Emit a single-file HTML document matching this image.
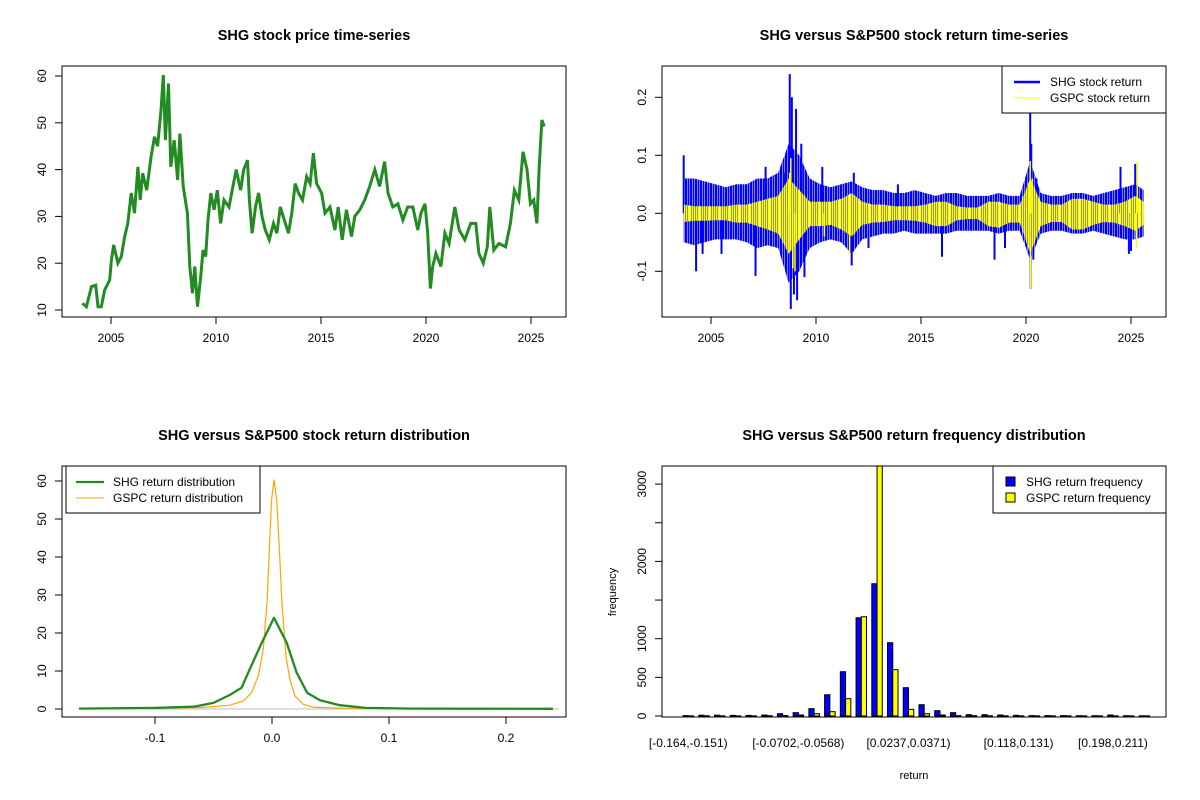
<!DOCTYPE html>
<html><head><meta charset="utf-8"><style>
body{margin:0;background:#fff;}
svg{display:block;font-family:"Liberation Sans",Arial,sans-serif;}
</style></head><body>
<svg id="c" width="1200" height="800" xmlns="http://www.w3.org/2000/svg">
<defs>
<pattern id="blueStripe" width="2.5" height="10" patternUnits="userSpaceOnUse"><rect x="0" y="0" width="2" height="10" fill="#0000FF"/></pattern>
<pattern id="yellowStripe" width="2" height="10" patternUnits="userSpaceOnUse"><rect x="0" y="0" width="1.6" height="10" fill="#FFFF00"/></pattern>
</defs>
</svg>
<script>
// ---------- data ----------
const priceYears=[2003.64,2003.83,2004.07,2004.27,2004.38,2004.54,2004.70,2004.94,2005.02,2005.13,2005.33,2005.49,2005.65,2005.80,2005.96,2006.12,2006.28,2006.39,2006.51,2006.70,2006.91,2007.07,2007.22,2007.38,2007.49,2007.59,2007.74,2007.85,2008.01,2008.17,2008.28,2008.44,2008.64,2008.75,2008.88,2008.99,2009.12,2009.27,2009.38,2009.51,2009.62,2009.75,2009.91,2010.06,2010.22,2010.38,2010.62,2010.77,2010.96,2011.17,2011.32,2011.50,2011.59,2011.72,2011.88,2012.03,2012.19,2012.35,2012.54,2012.74,2012.90,2013.06,2013.25,2013.45,2013.61,2013.77,2013.93,2014.12,2014.32,2014.48,2014.64,2014.79,2015.03,2015.19,2015.43,2015.66,2015.82,2016.01,2016.21,2016.45,2016.61,2016.85,2017.08,2017.32,2017.56,2017.79,2018.03,2018.19,2018.42,2018.66,2018.90,2019.13,2019.37,2019.61,2019.76,2019.95,2020.08,2020.21,2020.32,2020.47,2020.71,2020.90,2021.10,2021.37,2021.58,2021.85,2022.13,2022.37,2022.52,2022.73,2022.92,2023.04,2023.23,2023.47,2023.79,2024.02,2024.21,2024.42,2024.62,2024.81,2024.97,2025.13,2025.28,2025.39,2025.52,2025.63];
const priceValues=[11.4,10.7,15,15.3,10.7,10.7,14.3,16.4,20.7,23.9,20,21.4,25.7,28.5,35,30.7,40.6,33.5,39.2,35.6,42.8,47,45,52.7,60.2,46.3,58.4,40.6,46.3,37.8,47.7,36.4,30.7,19.3,13.6,19.3,10.7,17.1,22.8,21.4,29.2,35,31.4,35.6,28.5,33.5,32,35.6,40,35.6,40,42,33.5,26.4,32,35,30,27.1,25,28.5,26.4,32,29.2,26.4,30.7,37,35,33.5,38.5,37,43.5,37,35,30.7,32,27.1,32,25,31.4,25.7,30,31.4,33.5,36.4,40,36.4,41.7,35,32,32.7,29.2,32,32,27.1,30.7,32.7,26.4,14.6,19.3,22.1,19.3,26.4,24.2,32,27.1,25,28.5,28.5,22.1,20,23.5,32,22.8,24.2,23.5,28.5,35.6,33.5,43.8,40,32.7,33.5,28.5,40.6,50.6,49.2];

const retYears=[2003.7,2004.2,2004.7,2005.2,2005.7,2006.2,2006.7,2007.2,2007.7,2008.2,2008.7,2009.2,2009.7,2010.2,2010.7,2011.2,2011.7,2012.2,2012.7,2013.2,2013.7,2014.2,2014.7,2015.2,2015.7,2016.2,2016.7,2017.2,2017.7,2018.2,2018.7,2019.2,2019.7,2020.2,2020.7,2021.2,2021.7,2022.2,2022.7,2023.2,2023.7,2024.2,2024.7,2025.2,2025.6];
const shgHigh=[.06,.06,.055,.05,.045,.05,.05,.06,.06,.07,.12,.10,.06,.05,.045,.05,.055,.045,.04,.04,.035,.035,.04,.035,.03,.035,.035,.03,.03,.03,.035,.03,.03,.09,.035,.03,.03,.035,.035,.03,.035,.04,.045,.05,.04];
const shgLow=[-.05,-.055,-.05,-.045,-.045,-.045,-.05,-.06,-.055,-.06,-.12,-.10,-.06,-.05,-.045,-.05,-.07,-.045,-.04,-.035,-.035,-.03,-.035,-.035,-.035,-.035,-.03,-.03,-.03,-.03,-.035,-.03,-.03,-.08,-.035,-.03,-.03,-.035,-.035,-.03,-.035,-.04,-.045,-.045,-.04];
const gspcHigh=[.015,.012,.012,.012,.012,.015,.015,.02,.025,.03,.06,.04,.02,.02,.02,.025,.035,.02,.015,.015,.012,.012,.012,.015,.02,.02,.012,.01,.01,.02,.02,.015,.015,.06,.02,.015,.015,.025,.025,.02,.015,.015,.02,.03,.02];
const gspcLow=[-.015,-.013,-.013,-.012,-.012,-.016,-.016,-.022,-.028,-.035,-.07,-.045,-.022,-.022,-.02,-.028,-.04,-.02,-.016,-.015,-.012,-.012,-.013,-.016,-.022,-.022,-.012,-.01,-.01,-.022,-.025,-.016,-.016,-.07,-.022,-.015,-.015,-.028,-.028,-.02,-.015,-.016,-.022,-.03,-.02];
const shgSpikeYears=[2003.7,2004.29,2004.6,2005.5,2007.12,2007.6,2008.55,2008.75,2008.8,2008.85,2008.95,2009.05,2009.1,2009.3,2009.45,2010.3,2011.7,2011.8,2012.5,2013.9,2016.0,2018.5,2019.0,2020.2,2020.22,2020.25,2020.35,2020.5,2024.5,2024.9,2025.2,2025.0];
const shgSpikeValues=[0.10,-0.10,-0.07,-0.07,-0.108,0.08,0.07,0.24,-0.165,0.20,-0.14,0.18,-0.15,0.12,-0.11,0.08,-0.09,0.07,-0.06,0.05,-0.075,-0.08,-0.06,0.18,-0.13,0.12,-0.08,0.06,0.08,-0.07,0.085,-0.065];
const gspcSpikeYears=[2008.75,2008.8,2008.9,2009.0,2010.4,2011.6,2020.2,2020.22,2020.3,2025.25,2025.3];
const gspcSpikeValues=[0.07,0.095,-0.095,-0.1,-0.04,-0.07,0.09,-0.13,0.06,-0.06,0.09];

const densX=[-0.165,-0.1,-0.067,-0.05,-0.036,-0.026,-0.019,-0.010,0.0017,0.0125,0.021,0.030,0.041,0.058,0.08,0.12,0.24];
const shgDens=[0.1,0.3,0.6,1.6,3.7,5.6,10.5,16.6,24,17.5,9.6,4.3,2.3,1.0,0.3,0.1,0.05];
const gspcX=[-0.165,-0.06,-0.036,-0.0245,-0.0174,-0.0117,-0.0074,-0.004,-0.0023,-0.0003,0.0017,0.004,0.0063,0.0083,0.012,0.0154,0.0197,0.0268,0.035,0.06,0.24];
const gspcDens=[0.05,0.4,1.0,2.1,4.3,8.7,15.8,29,42,55,60.4,55,42,29,13.8,7.6,3.4,1.2,0.5,0.2,0.05];

const binLabels=["[-0.164,-0.151)","[-0.0702,-0.0568)","[0.0237,0.0371)","[0.118,0.131)","[0.198,0.211)"];
const binLabelIdx=[0,7,14,21,27];
const shgFreq=[5,10,10,8,8,12,30,43,95,275,573,1271,1711,948,366,146,69,43,17,17,13,9,5,5,5,4,4,13,4,3];
const gspcFreq=[2,3,2,2,2,4,5,13,30,56,224,1284,3500,599,86,30,13,5,4,3,3,2,2,2,2,2,2,2,2,2];

const priceTicks=[10,20,30,40,50,60];
const yearTicks=[2005,2010,2015,2020,2025];
const retTicks=[-0.1,0.0,0.1,0.2];
const retTickLabels=["-0.1","0.0","0.1","0.2"];
const densYTicks=[0,10,20,30,40,50,60];
const densXTicks=[-0.1,0.0,0.1,0.2];
const densXLabels=["-0.1","0.0","0.1","0.2"];
const freqTicks=[0,500,1000,2000,3000];
const freqMinorTicks=[1500,2500];

// ---------- helpers ----------
const svg=document.getElementById('c');
const NS='http://www.w3.org/2000/svg';
function mk(tag,attrs,parent){const e=document.createElementNS(NS,tag);for(const k in attrs)e.setAttribute(k,attrs[k]);(parent||svg).appendChild(e);return e;}
function txt(s,x,y,attrs,parent){const e=mk('text',Object.assign({x:x,y:y,'font-size':12,fill:'#000'},attrs||{}),parent);e.textContent=s;return e;}
function grp(name){const g=mk('g',{});return g;}
function frame(g,x0,y0,x1,y1){mk('rect',{x:x0,y:y0,width:x1-x0,height:y1-y0,fill:'none',stroke:'#000','stroke-width':1},g);}
function yAxis(g,ticks,labels,sy,x0){ticks.forEach((t,i)=>{const y=sy(t);mk('line',{x1:x0-7,y1:y,x2:x0,y2:y,stroke:'#000'},g);const l=txt(labels[i],x0-16,y,{'text-anchor':'middle',transform:`rotate(-90 ${x0-16} ${y})`},g);});}
function xAxis(g,ticks,labels,sx,y0){ticks.forEach((t,i)=>{const x=sx(t);mk('line',{x1:x,y1:y0,x2:x,y2:y0+7,stroke:'#000'},g);const l=txt(labels[i],x,y0+25,{'text-anchor':'middle'},g);});}
function title(g,s,x,y){const t=txt(s,x,y,{'text-anchor':'middle','font-weight':'bold','font-size':14.5},g);}

// ---------- panel 1 ----------
(function(){
const g=grp('price-panel');
const sx=v=>111+(v-2005)*21, sy=v=>310-(v-10)*4.68;
title(g,'SHG stock price time-series',314,40);
let d=priceYears.map((y,i)=>(i?'L':'M')+sx(y).toFixed(1)+','+sy(priceValues[i]).toFixed(1)).join('');
const p=mk('path',{d:d,fill:'none',stroke:'#228B22','stroke-width':3,'stroke-linejoin':'miter'},g);

frame(g,62,66,566,317);
yAxis(g,priceTicks,priceTicks.map(String),sy,62);
xAxis(g,yearTicks,yearTicks.map(String),sx,317);
})();

// ---------- panel 2 ----------
(function(){
const g=grp('return-timeseries-panel');
const sx=v=>711+(v-2005)*21, sy=v=>213.3-v*580;
title(g,'SHG versus S&P500 stock return time-series',914,40);
function band(hi,lo,fill,name){let d='M'+retYears.map((y,i)=>sx(y).toFixed(1)+','+sy(hi[i]).toFixed(1)).join('L');
for(let i=retYears.length-1;i>=0;i--)d+='L'+sx(retYears[i]).toFixed(1)+','+sy(lo[i]).toFixed(1);
const p=mk('path',{d:d+'Z',fill:fill,stroke:'none'},g);}
function spikes(ys,vs,col,w,name){ys.forEach((y,i)=>{const l=mk('line',{x1:sx(y),x2:sx(y),y1:sy(0),y2:sy(vs[i]),stroke:col,'stroke-width':w},g);});}
band(shgHigh,shgLow,'url(#blueStripe)','shg-return-band');
spikes(shgSpikeYears,shgSpikeValues,'#0000FF',2,'shg-return-spike');
band(gspcHigh,gspcLow,'url(#yellowStripe)','gspc-return-band');
spikes(gspcSpikeYears,gspcSpikeValues,'#FFFF00',1.5,'gspc-return-spike');
frame(g,662,66,1166,317);
yAxis(g,retTicks,retTickLabels,sy,662);
xAxis(g,yearTicks,yearTicks.map(String),sx,317);
const lg=grp('return-legend');g.appendChild(lg);
mk('rect',{x:1002,y:66,width:164,height:47,fill:'#fff',stroke:'#000'},lg);
mk('line',{x1:1014,y1:82,x2:1040,y2:82,stroke:'#0000FF','stroke-width':2.5},lg);
mk('line',{x1:1014,y1:98,x2:1040,y2:98,stroke:'#FFFF00','stroke-width':1},lg);
txt('SHG stock return',1050,86,{},lg);txt('GSPC stock return',1050,102,{},lg);
})();

// ---------- panel 3 ----------
(function(){
const g=grp('return-density-panel');
const sx=v=>272+v*1170, sy=v=>709-v*3.8;
title(g,'SHG versus S&P500 stock return distribution',314,440);
mk('line',{x1:sx(-0.165),x2:sx(0.245),y1:sy(0),y2:sy(0),stroke:'#bebebe'},g);
const pg=mk('path',{d:gspcX.map((x,i)=>(i?'L':'M')+sx(x).toFixed(1)+','+sy(gspcDens[i]).toFixed(1)).join(''),fill:'none',stroke:'#FFA500','stroke-width':1.2},g);

const ps=mk('path',{d:densX.map((x,i)=>(i?'L':'M')+sx(x).toFixed(1)+','+sy(shgDens[i]).toFixed(1)).join(''),fill:'none',stroke:'#228B22','stroke-width':2.3,'stroke-linejoin':'round'},g);

frame(g,62,466,566,717);
yAxis(g,densYTicks,densYTicks.map(String),sy,62);
xAxis(g,densXTicks,densXLabels,sx,717);
const lg=grp('density-legend');g.appendChild(lg);
mk('rect',{x:66,y:466,width:194,height:47,fill:'#fff',stroke:'#000'},lg);
mk('line',{x1:76,y1:482,x2:104,y2:482,stroke:'#228B22','stroke-width':2.3},lg);
mk('line',{x1:76,y1:498,x2:104,y2:498,stroke:'#FFA500','stroke-width':1},lg);
txt('SHG return distribution',113,486,{},lg);txt('GSPC return distribution',113,502,{},lg);
})();

// ---------- panel 4 ----------
(function(){
const g=grp('return-frequency-panel');
const unit=5.243, x0=677.8, ymax=3234;
const bx=(gi,k)=>x0+(gi*3+1+k)*unit;
const sy=v=>716-Math.min(v,ymax)*0.0773;
title(g,'SHG versus S&P500 return frequency distribution',914,440);
shgFreq.forEach((v,i)=>{const r=mk('rect',{x:bx(i,0),y:sy(v),width:unit,height:716-sy(v),fill:'#0000FF',stroke:'#000','stroke-width':1},g);});
gspcFreq.forEach((v,i)=>{const r=mk('rect',{x:bx(i,1),y:sy(v),width:unit,height:716-sy(v),fill:'#FFFF00',stroke:'#000','stroke-width':1},g);});
frame(g,662,466,1166,717);
yAxis(g,freqTicks,freqTicks.map(String),sy,662);
freqMinorTicks.forEach(t=>{mk('line',{x1:655,x2:662,y1:sy(t),y2:sy(t),stroke:'#000'},g);});
binLabelIdx.forEach((b,i)=>{const l=txt(binLabels[i],bx(b,1),747,{'text-anchor':'middle'},g);});
const xl=txt('return',914,779,{'text-anchor':'middle','font-size':11},g);
const yl=txt('frequency',616,592,{'text-anchor':'middle','font-size':11,transform:'rotate(-90 616 592)'},g);
const lg=grp('frequency-legend');g.appendChild(lg);
mk('rect',{x:993,y:466,width:173,height:47,fill:'#fff',stroke:'#000'},lg);
mk('rect',{x:1006,y:477,width:9,height:9,fill:'#0000FF',stroke:'#000'},lg);
mk('rect',{x:1006,y:493,width:9,height:9,fill:'#FFFF00',stroke:'#000'},lg);
txt('SHG return frequency',1026,486,{},lg);txt('GSPC return frequency',1026,502,{},lg);
})();
</script>
</body></html>
